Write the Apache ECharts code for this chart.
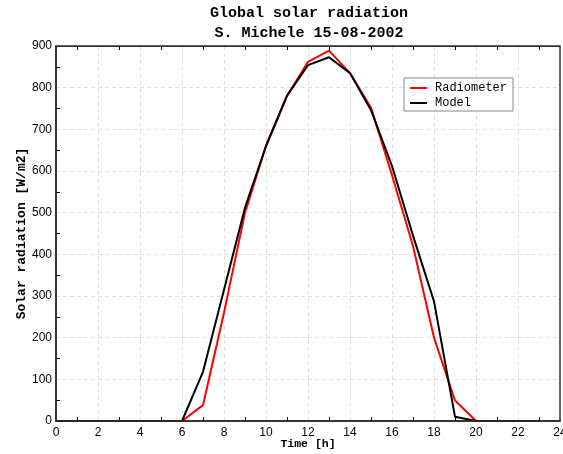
<!DOCTYPE html>
<html>
<head>
<meta charset="utf-8">
<script src="https://cdn.jsdelivr.net/npm/echarts@6/dist/echarts.min.js"></script>
<style>
html, body { margin: 0; padding: 0; background: #fff; }
#chart1 { width: 563px; height: 454px; }
</style>
</head>
<body>
<div id="chart1"></div>
<script>
// hours of the day
var hours = [0,1,2,3,4,5,6,7,8,9,10,11,12,13,14,15,16,17,18,19,20,21,22,23];
// measured global radiation [W/m2]
var radiometer = [0,0,0,0,0,0,0,38,260,500,660,780,862,889,835,752,590,420,200,49,0,0,0,0];
// modelled global radiation [W/m2]
var model = [0,0,0,0,0,0,0,118,315,512,660,781,854,873,835,746,612,445,287,10,0,0,0,0];

var seriesNames = ['Radiometer', 'Model'];
var seriesColors = ['#ff0000', '#000000'];

function pairs(xs, ys) {
	return xs.map(function (x, i) { return [x, ys[i]]; });
}

var mono = 'Liberation Mono';
var sans = 'Liberation Sans';
var lineIcon = 'path://M0,0 L17,0 L17,2 L0,2 Z';

var option = {
	animation: false,
	backgroundColor: '#fff',
	color: seriesColors,
	title: {
		text: 'Global solar radiation\nS. Michele 15-08-2002',
		left: 304,
		top: -2,
		textAlign: 'center',
		textStyle: {
			fontFamily: mono,
			fontWeight: 'bold',
			fontSize: 15,
			lineHeight: 20,
			color: '#000'
		}
	},
	legend: {
		orient: 'vertical',
		left: 404,
		top: 78,
		padding: [4, 6, 2, 6],
		itemGap: 3,
		itemWidth: 17,
		itemHeight: 14,
		symbolKeepAspect: true,
		backgroundColor: '#fff',
		borderColor: '#888',
		borderWidth: 1,
		borderRadius: 0,
		textStyle: {
			fontFamily: mono,
			fontSize: 12,
			color: '#000',
			padding: [0, 0, 0, 3]
		},
		data: [
			{ name: seriesNames[0], icon: lineIcon },
			{ name: seriesNames[1], icon: lineIcon }
		]
	},
	grid: {
		left: 56,
		right: 3,
		top: 46,
		bottom: 33,
		outerBoundsMode: 'none',
		show: true,
		z: 10,
		borderColor: '#333',
		borderWidth: 1.5,
		backgroundColor: 'transparent'
	},
	xAxis: [{
		type: 'value',
		min: 0,
		max: 24,
		interval: 2,
		name: 'Time [h]',
		nameLocation: 'middle',
		nameGap: 17,
		nameMoveOverlap: false,
		nameTextStyle: { fontFamily: mono, fontWeight: 'bold', fontSize: 11.5, color: '#000' },
		axisLine: { lineStyle: { color: '#000', width: 1.5 } },
		axisTick: { show: false, inside: true },
		minorTick: { show: true, splitNumber: 2, length: 4, lineStyle: { color: '#000' } },
		axisLabel: { fontFamily: sans, fontSize: 12, color: '#000', margin: 6 },
		splitLine: { show: true, lineStyle: { color: '#e0e0e0', type: [4, 3] } }
	}, {
		type: 'value',
		position: 'top',
		min: 0,
		max: 24,
		interval: 2,
		axisLine: { lineStyle: { color: '#222' } },
		axisTick: { show: false, inside: true },
		minorTick: { show: true, splitNumber: 2, length: 4, lineStyle: { color: '#000' } },
		axisLabel: { show: false },
		splitLine: { show: false }
	}],
	yAxis: {
		type: 'value',
		min: 0,
		max: 900,
		interval: 100,
		name: 'Solar radiation [W/m2]',
		nameLocation: 'middle',
		nameGap: 28,
		nameMoveOverlap: false,
		nameTextStyle: { fontFamily: mono, fontWeight: 'bold', fontSize: 13, color: '#000' },
		axisLine: { show: true, lineStyle: { color: '#000', width: 1.5 } },
		axisTick: { show: false, inside: true },
		minorTick: { show: true, splitNumber: 2, length: 4, lineStyle: { color: '#000' } },
		axisLabel: { fontFamily: sans, fontSize: 12, color: '#000', margin: 4 },
		splitLine: { show: true, lineStyle: { color: '#e0e0e0', type: [4, 3] } }
	},
	series: [{
		name: seriesNames[0],
		type: 'line',
		xAxisIndex: 0,
		symbol: 'none',
		lineStyle: { color: seriesColors[0], width: 2 },
		data: pairs(hours, radiometer)
	}, {
		name: seriesNames[1],
		type: 'line',
		xAxisIndex: 0,
		symbol: 'none',
		lineStyle: { color: seriesColors[1], width: 2 },
		data: pairs(hours, model)
	}]
};
var chart1 = echarts.init(document.getElementById('chart1'));
chart1.setOption(option);
</script>
</body>
</html>
